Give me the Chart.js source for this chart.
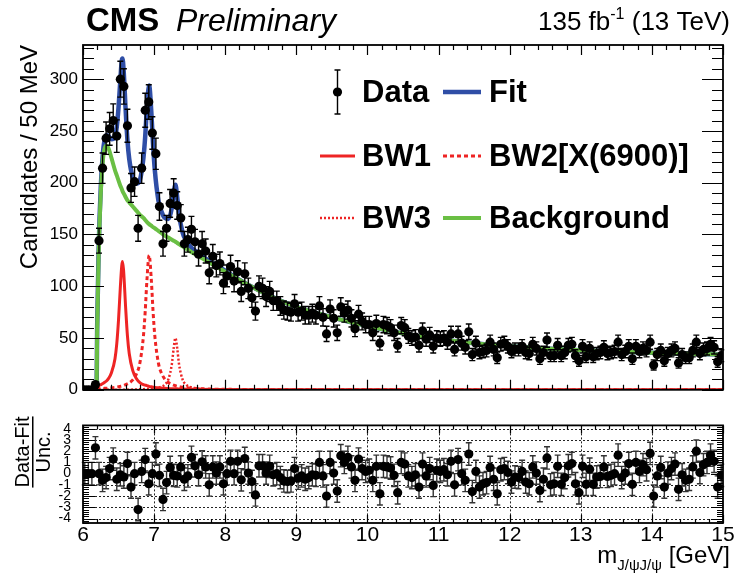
<!DOCTYPE html>
<html>
<head>
<meta charset="utf-8">
<title>CMS J/psi J/psi mass spectrum</title>
<script src="https://cdn.jsdelivr.net/npm/chart.js@4.4.0/dist/chart.umd.min.js"></script>
<style>
  body { margin: 0; background: #fff; width: 744px; height: 574px; overflow: hidden; position: relative; }
  #top { position: absolute; left: 0; top: 0; width: 744px; height: 405px; }
  #bot { position: absolute; left: 0; top: 405px; width: 744px; height: 169px; }
</style>
</head>
<body>
<div id="top"><canvas id="mainChart"></canvas></div>
<div id="bot"><canvas id="pullChart"></canvas></div>
<script>
/* ---- data ---- */
const binLo = 6.0, binWidth = 0.05;   // 50 MeV bins, 6-15 GeV

// candidates per bin
const counts = [
  0, 0, 0, 5, 144, 214, 243, 252, 260, 245,
  300, 293, 255, 195, 201, 156, 214, 270, 278, 248,
  228, 177, 141, 156, 180, 190, 178, 166, 141, 145,
  155, 143, 131, 141, 134, 113, 129, 120, 122, 103,
  110, 119, 105, 114, 95, 112, 98, 89, 76, 100,
  98, 90, 95, 86, 86, 81, 77, 76, 75, 83,
  75, 76, 72, 72, 74, 72, 81, 70, 54, 78,
  69, 55, 80, 74, 77, 69, 59, 73, 66, 63,
  63, 55, 64, 45, 63, 62, 60, 55, 43, 62,
  60, 52, 50, 51, 43, 57, 49, 53, 42, 50,
  49, 50, 46, 54, 39, 54, 45, 41, 56, 34,
  45, 36, 37, 38, 46, 39, 31, 44, 45, 42,
  37, 39, 39, 42, 36, 35, 44, 40, 30, 36,
  48, 33, 33, 43, 33, 36, 43, 44, 33, 28,
  42, 32, 40, 32, 35, 36, 41, 35, 36, 37,
  46, 34, 37, 42, 30, 42, 37, 40, 38, 46,
  24, 34, 38, 28, 35, 38, 40, 26, 34, 31,
  31, 38, 46, 35, 39, 40, 44, 41, 27, 33
];

// (Data - Fit) / Unc. per bin
const pulls = [
  0, 0, 0, 2.3, 0, -0.6, -0.35, 0.45, 1.3, -0.5,
  -0.1, -0.3, 0.9, -1.2, 0, -3.2, 0.2, 1.25, -0.9, 0,
  1.75, -0.15, -2.3, -0.8, 0.55, -0.15, -0.2, 0.6, -0.5, -0.2,
  1.45, 0.7, -0.1, 1.05, 0.6, -1.0, 0.6, 0.05, 0.6, -0.9,
  0, 1.1, 0, 1.1, -0.55, 1.35, 0.05, -0.7, -1.9, 0.7,
  0.7, 0.05, 0.65, -0.1, 0, -0.35, -0.65, -0.7, -0.65, 0.45,
  -0.4, -0.2, -0.5, -0.35, -0.1, -0.15, 1.0, -0.2, -2.0, 1.0,
  0.05, -1.55, 1.6, 1.0, 1.45, 0.6, -0.6, 1.3, 0.45, 0.2,
  0.3, -0.6, 0.65, -1.8, 0.65, 0.6, 0.5, -0.15, -1.7, 1.0,
  0.85, -0.2, -0.35, -0.1, -1.2, 0.85, -0.2, 0.45, -1.05, 0.3,
  0.2, 0.35, -0.1, 1.1, -1.0, 1.25, 0, -0.6, 1.75, -1.6,
  0.2, -1.2, -0.9, -0.8, 0.55, -0.5, -1.8, 0.35, 0.45, 0.1,
  -0.75, -0.3, -0.35, 0.2, -0.75, -0.9, 0.6, 0.05, -1.5, -0.5,
  1.4, -1.0, -0.9, 0.65, -0.95, -0.35, 0.7, 0.9, -0.9, -1.7,
  0.65, -0.95, 0.4, -0.95, -0.3, -0.25, 0.6, -0.25, -0.15, 0,
  1.65, -0.35, 0.05, 0.9, -0.95, 1.0, 0.2, 0.8, 0.35, 1.8,
  -2.0, -0.2, 0.55, -1.2, 0.05, 0.45, 0.85, -1.4, -0.1, -0.6,
  -0.5, 0.6, 2.0, 0.1, 0.8, 1.0, 1.65, 1.1, -1.2, -0.15
];

// fitted curves, sampled along the mass axis
const curveX = [6.0, 6.18, 6.19, 6.2, 6.22, 6.25, 6.28, 6.3, 6.33, 6.36, 6.4, 6.45, 6.475, 6.5, 6.525, 6.545, 6.555, 6.57, 6.6, 6.625,
  6.65, 6.7, 6.75, 6.8, 6.85, 6.875, 6.9, 6.93, 6.96, 6.985, 7.01, 7.06, 7.1, 7.15, 7.2, 7.25, 7.275, 7.3, 7.325, 7.35,
  7.4, 7.45, 7.5, 7.6, 7.7, 7.8, 8.0, 8.25, 8.5, 8.75, 9.0, 9.5, 10, 10.5, 11, 11.5, 12, 12.5, 13, 13.5, 14, 14.5, 15];
const fitY = [0, 0, 0, 64, 135, 196, 229, 240, 246, 245, 242, 244, 254, 273, 299, 318, 320, 310, 270, 241,
  223, 205, 199, 202.5, 224, 245, 274, 294, 269, 237, 212, 183, 173, 166, 165, 176, 190, 198, 186, 170,
  152, 144, 139, 133, 128, 123.5, 115, 104.2, 95.1, 87, 80, 70, 61.5, 54.5, 49, 45, 42, 40, 38.3, 37, 35.8, 34.8, 34];
const bkgY = [0, 0, 0, 60, 130, 190, 222, 232, 236, 233, 224, 212, 207, 202, 197, 194, 192, 190, 186, 183,
  181, 177, 173, 169, 166, 164, 162, 160, 158.5, 157, 156, 153.5, 151.5, 149, 147, 145, 144, 143, 141.8, 140.7,
  138.5, 136.3, 134, 130, 126, 122, 114, 104, 95, 87, 80, 70, 61.5, 54.5, 49, 45, 42, 40, 38.3, 37, 35.8, 34.8, 34];
const bw1Y = [0, 0, 0, 3, 4, 5, 6, 7, 8.5, 11, 16.5, 30, 44.5, 68, 99, 120, 124, 116, 79, 52,
  35, 18.5, 11, 7, 5, 4.5, 4, 3.3, 2.9, 2.6, 2.3, 1.9, 1.7, 1.4, 1.2, 1.0, 1.0, 0.9, 0.9, 0.8,
  0.7, 0.6, 0.6, 0.5, 0.4, 0.3, 0.2, 0.1, 0, 0, 0, 0, 0, 0, 0, 0, 0, 0, 0, 0, 0, 0, 0];
const bw2Y = [0, 0, 0, 1.0, 1.1, 1.2, 1.3, 1.4, 1.5, 1.7, 1.9, 2.3, 2.6, 2.9, 3.3, 3.6, 3.7, 4.0, 4.9, 5.7,
  6.6, 9.6, 15, 26, 52, 76, 107, 130, 107, 76, 52, 26, 16.6, 10.4, 7.1, 5.2, 4.5, 3.9, 3.4, 3.0,
  2.45, 2.0, 1.7, 1.2, 1.0, 0.7, 0.5, 0.3, 0.2, 0.1, 0, 0, 0, 0, 0, 0, 0, 0, 0, 0, 0, 0, 0];
const bw3Y = [0, 0, 0, 0, 0, 0, 0, 0, 0, 0, 0, 0, 0, 0, 0, 0, 0, 0, 0, 0,
  0, 0.3, 0.35, 0.5, 0.6, 0.7, 0.8, 0.9, 1.0, 1.2, 1.4, 2.0, 2.9, 5, 10, 25, 40, 50, 40, 25,
  10, 5, 2.9, 1.35, 0.8, 0.5, 0.3, 0.1, 0, 0, 0, 0, 0, 0, 0, 0, 0, 0, 0, 0, 0, 0, 0];

// axis ticks
const massTicks = [6, 7, 8, 9, 10, 11, 12, 13, 14, 15];
const countTicks = [0, 50, 100, 150, 200, 250, 300];
const pullTicks = [-4, -3, -2, -1, 0, 1, 2, 3, 4];
const pullGrid = [-4, -3, -2, -1, 1, 2, 3, 4];

/* ---- styling ---- */
const FONT = '"Liberation Sans", Arial, Helvetica, sans-serif';
const BLUE = '#2f4ea6', GREEN = '#6abf44', RED = '#ee2424';

const centers = counts.map((_, i) => binLo + binWidth * (i + 0.5));
const curve = ys => curveX.map((x, i) => ({ x, y: ys[i] }));

function lineSet(label, ys, color, width, dash, order) {
  return {
    label, data: curve(ys), showLine: true, pointRadius: 0, pointHoverRadius: 0,
    borderColor: color, borderWidth: width, borderDash: dash || [], fill: false,
    cubicInterpolationMode: 'monotone', order
  };
}

// box with inward ticks on all four sides (ROOT style)
function tickRange(min, max, step, majorStep, fn) {
  const n0 = Math.ceil(min / step - 1e-6), n1 = Math.floor(max / step + 1e-6);
  for (let n = n0; n <= n1; n++) {
    const v = n * step;
    const r = v / majorStep;
    fn(v, Math.abs(r - Math.round(r)) < 1e-6);
  }
}

const framePlugin = {
  id: 'frame',
  afterDraw(chart, args, o) {
    const { ctx, chartArea: a, scales: { x, y } } = chart;
    ctx.save();
    ctx.strokeStyle = '#000';
    ctx.lineWidth = 1.2;
    ctx.beginPath();
    tickRange(x.min, x.max, o.xMinor, 1, (v, major) => {
      const px = Math.round(x.getPixelForValue(v)) + 0.5;
      const len = major ? o.xMajLen : o.xMinLen;
      ctx.moveTo(px, a.bottom); ctx.lineTo(px, a.bottom - len);
      ctx.moveTo(px, a.top); ctx.lineTo(px, a.top + len);
    });
    tickRange(y.min, y.max, o.yMinor, o.yMajor, (v, major) => {
      const py = Math.round(y.getPixelForValue(v)) + 0.5;
      const len = major ? o.yMajLen : o.yMinLen;
      ctx.moveTo(a.left, py); ctx.lineTo(a.left + len, py);
      ctx.moveTo(a.right, py); ctx.lineTo(a.right - len, py);
    });
    ctx.stroke();
    ctx.lineWidth = 1.8;
    ctx.strokeRect(a.left, a.top, a.right - a.left, a.bottom - a.top);
    ctx.restore();
  }
};

// vertical error bars with small caps, drawn right under the marker dataset
const errorBarPlugin = {
  id: 'errorBars',
  beforeDatasetDraw(chart, args, o) {
    if (args.index !== 0) return;
    const ds = chart.data.datasets[0];
    const { ctx, scales: { x, y } } = chart;
    ctx.save();
    ctx.strokeStyle = o.color;
    ctx.lineWidth = 1.4;
    ctx.beginPath();
    ds.data.forEach((p, i) => {
      const e = ds.errors[i];
      if (!e) return;
      const px = x.getPixelForValue(p.x);
      const y1 = y.getPixelForValue(p.y - e), y2 = y.getPixelForValue(p.y + e);
      ctx.moveTo(px, y1); ctx.lineTo(px, y2);
      ctx.moveTo(px - o.cap, y1); ctx.lineTo(px + o.cap, y1);
      ctx.moveTo(px - o.cap, y2); ctx.lineTo(px + o.cap, y2);
    });
    ctx.stroke();
    ctx.restore();
  }
};

// header, axis title and two-column legend of the upper pad
const mainDecor = {
  id: 'mainDecor',
  afterDraw(chart) {
    const ctx = chart.ctx;
    ctx.save();
    ctx.fillStyle = '#000';
    ctx.textBaseline = 'alphabetic';
    ctx.textAlign = 'left';
    ctx.font = 'bold 33px ' + FONT;
    ctx.fillText('CMS', 86, 31);
    ctx.font = 'italic 32px ' + FONT;
    ctx.fillText('Preliminary', 176, 31);

    // 135 fb^-1 (13 TeV), right aligned
    const big = '26px ' + FONT, small = '16px ' + FONT;
    ctx.font = big;
    const w1 = ctx.measureText('135 fb').width, w3 = ctx.measureText(' (13 TeV)').width;
    ctx.font = small;
    const w2 = ctx.measureText('-1').width;
    let xx = 730 - (w1 + w2 + w3);
    ctx.font = big; ctx.fillText('135 fb', xx, 30); xx += w1;
    ctx.font = small; ctx.fillText('-1', xx, 19); xx += w2;
    ctx.font = big; ctx.fillText(' (13 TeV)', xx, 30);

    // y axis title
    ctx.save();
    ctx.translate(30, 45);
    ctx.rotate(-Math.PI / 2);
    ctx.font = '24px ' + FONT;
    ctx.textAlign = 'right';
    ctx.textBaseline = 'middle';
    ctx.fillText('Candidates / 50 MeV', 0, 0);
    ctx.restore();

    // legend
    const rows = [92, 156, 218];
    const c1 = [320, 355], c2 = [443, 481];
    ctx.font = 'bold 31px ' + FONT;
    ctx.textBaseline = 'middle';
    const label = (t, x, y) => ctx.fillText(t, x, y + 1);
    const seg = (x0, x1, y, color, w, dash) => {
      ctx.save();
      ctx.strokeStyle = color; ctx.lineWidth = w; ctx.setLineDash(dash || []);
      ctx.beginPath(); ctx.moveTo(x0, y); ctx.lineTo(x1, y); ctx.stroke();
      ctx.restore();
    };
    // Data: marker with error bar
    const mx = (c1[0] + c1[1]) / 2;
    ctx.save();
    ctx.strokeStyle = '#000'; ctx.lineWidth = 1.4;
    ctx.beginPath();
    ctx.moveTo(mx, rows[0] - 22); ctx.lineTo(mx, rows[0] + 22);
    ctx.moveTo(mx - 3, rows[0] - 22); ctx.lineTo(mx + 3, rows[0] - 22);
    ctx.moveTo(mx - 3, rows[0] + 22); ctx.lineTo(mx + 3, rows[0] + 22);
    ctx.stroke();
    ctx.beginPath(); ctx.arc(mx, rows[0], 4.6, 0, Math.PI * 2); ctx.fill();
    ctx.restore();
    label('Data', 362, rows[0]);
    seg(c2[0], c2[1], rows[0], BLUE, 4.5);
    label('Fit', 489, rows[0]);
    seg(c1[0], c1[1], rows[1], RED, 3);
    label('BW1', 362, rows[1]);
    seg(c2[0], c2[1], rows[1], RED, 3, [4, 3]);
    label('BW2[X(6900)]', 489, rows[1]);
    seg(c1[0], c1[1], rows[2], RED, 2.5, [2, 2]);
    label('BW3', 362, rows[2]);
    seg(c2[0], c2[1], rows[2], GREEN, 4);
    label('Background', 489, rows[2]);
    ctx.restore();
  }
};

// lower pad: dotted grid, axis titles
const pullDecor = {
  id: 'pullDecor',
  beforeDatasetsDraw(chart) {
    const { ctx, chartArea: a, scales: { x, y } } = chart;
    ctx.save();
    ctx.strokeStyle = '#222';
    ctx.lineWidth = 1;
    ctx.setLineDash([2, 2]);
    ctx.beginPath();
    massTicks.slice(1, -1).forEach(v => {
      const px = Math.round(x.getPixelForValue(v)) + 0.5;
      ctx.moveTo(px, a.top); ctx.lineTo(px, a.bottom);
    });
    pullGrid.forEach(v => {
      const py = Math.round(y.getPixelForValue(v)) + 0.5;
      ctx.moveTo(a.left, py); ctx.lineTo(a.right, py);
    });
    ctx.stroke();
    ctx.restore();
  },
  afterDraw(chart) {
    const ctx = chart.ctx;
    ctx.save();
    ctx.fillStyle = '#000';
    // y title as a fraction (canvas coordinates of the lower pad)
    ctx.translate(33, 47);
    ctx.rotate(-Math.PI / 2);
    ctx.font = '20px ' + FONT;
    ctx.textAlign = 'center';
    ctx.textBaseline = 'alphabetic';
    const wNum = ctx.measureText('Data-Fit').width;
    ctx.fillText('Data-Fit', 0, -4);
    ctx.fillText('Unc.', 0, 17);
    ctx.fillRect(-wNum / 2, -1, wNum, 1.5);
    ctx.restore();

    // x title: m_{J/psi J/psi} [GeV], right aligned
    ctx.save();
    ctx.fillStyle = '#000';
    ctx.textBaseline = 'alphabetic';
    const big = '24px ' + FONT, small = '15px ' + FONT;
    ctx.font = big;
    const wm = ctx.measureText('m').width, wg = ctx.measureText(' [GeV]').width;
    ctx.font = small;
    const ws = ctx.measureText('J/\u03c8J/\u03c8').width;
    let xx = 730 - (wm + ws + wg);
    const base = 563 - 405;
    ctx.font = big; ctx.fillText('m', xx, base); xx += wm;
    ctx.font = small; ctx.fillText('J/\u03c8J/\u03c8', xx, base + 7); xx += ws;
    ctx.font = big; ctx.fillText(' [GeV]', xx, base);
    ctx.restore();
  }
};

/* ---- upper pad: spectrum and fit ---- */
new Chart(document.getElementById('mainChart'), {
  type: 'scatter',
  data: {
    datasets: [
      {
        label: 'Data', data: centers.map((x, i) => ({ x, y: counts[i] })),
        errors: counts.map(c => Math.sqrt(c)),
        pointRadius: 4.6, pointHoverRadius: 4.6, pointBackgroundColor: '#000', pointBorderWidth: 0,
        showLine: false, order: 0
      },
      lineSet('BW1', bw1Y, RED, 3, null, 1),
      lineSet('BW2', bw2Y, RED, 3, [4, 3], 1),
      lineSet('BW3', bw3Y, RED, 2.5, [2, 2], 1),
      lineSet('Background', bkgY, GREEN, 4, null, 2),
      lineSet('Fit', fitY, BLUE, 4.5, null, 3)
    ]
  },
  options: {
    animation: false, responsive: true, maintainAspectRatio: false, devicePixelRatio: 1,
    layout: { padding: { left: 0, right: 21, top: 45, bottom: 5 } },
    plugins: {
      legend: { display: false }, tooltip: { enabled: false },
      frame: { xMinor: 0.2, xMajLen: 10, xMinLen: 5, yMinor: 10, yMajor: 50, yMajLen: 21, yMinLen: 11 },
      errorBars: { color: '#000', cap: 3 }
    },
    scales: {
      x: { type: 'linear', min: 6, max: 15, display: false },
      y: {
        min: 0, max: 333,
        afterFit(s) { s.width = 83; },
        afterBuildTicks(s) { s.ticks = countTicks.map(v => ({ value: v })); },
        grid: { display: false, drawTicks: false }, border: { display: false },
        ticks: { color: '#000', padding: 5, autoSkip: false, font: { family: FONT, size: 17 } }
      }
    }
  },
  plugins: [errorBarPlugin, framePlugin, mainDecor]
});

/* ---- lower pad: pulls ---- */
new Chart(document.getElementById('pullChart'), {
  type: 'scatter',
  data: {
    datasets: [{
      label: 'Pull', data: centers.map((x, i) => ({ x, y: pulls[i] })),
      errors: pulls.map(() => 1),
      pointRadius: 4.6, pointHoverRadius: 4.6, pointBackgroundColor: '#000', pointBorderWidth: 0,
      showLine: false, order: 0
    }]
  },
  options: {
    animation: false, responsive: true, maintainAspectRatio: false, devicePixelRatio: 1,
    layout: { padding: { left: 0, right: 21, top: 7, bottom: 0 } },
    plugins: {
      legend: { display: false }, tooltip: { enabled: false },
      frame: { xMinor: 0.2, xMajLen: 8, xMinLen: 4, yMinor: 0.2, yMajor: 1, yMajLen: 12, yMinLen: 6 },
      errorBars: { color: '#333', cap: 3 }
    },
    scales: {
      x: {
        type: 'linear', min: 6, max: 15,
        afterFit(s) { s.height = 51; },
        afterBuildTicks(s) { s.ticks = massTicks.map(v => ({ value: v })); },
        grid: { display: false, drawTicks: false }, border: { display: false },
        ticks: { color: '#000', padding: 0, maxRotation: 0, autoSkip: false, font: { family: FONT, size: 21 } }
      },
      y: {
        min: -4.4, max: 4.3,
        afterFit(s) { s.width = 83; },
        afterBuildTicks(s) { s.ticks = pullTicks.map(v => ({ value: v })); },
        grid: { display: false, drawTicks: false }, border: { display: false },
        ticks: { color: '#000', padding: 12, autoSkip: false, font: { family: FONT, size: 14 } }
      }
    }
  },
  plugins: [errorBarPlugin, framePlugin, pullDecor]
});
</script>
</body>
</html>
